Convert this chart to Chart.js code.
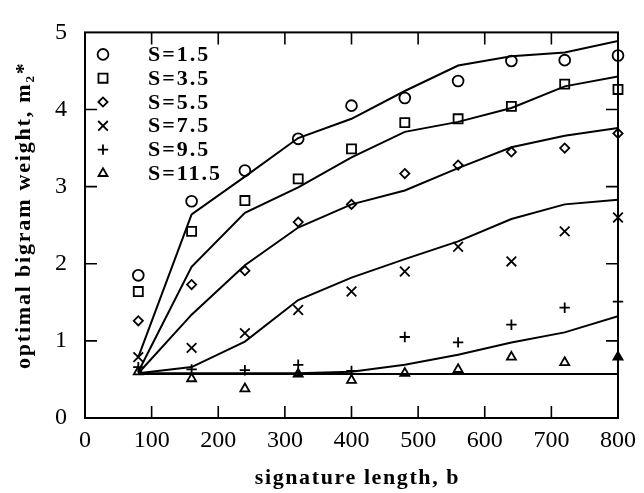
<!DOCTYPE html>
<html><head><meta charset="utf-8">
<script src="https://cdn.jsdelivr.net/npm/chart.js@4.4.1/dist/chart.umd.min.js"></script>
<style>html,body{margin:0;padding:0;background:#fff}#wrap{width:644px;height:493px}</style>
</head><body><div id="wrap"><canvas id="c" width="644" height="493"></canvas></div>
<script>
// ---- data ----
const signatureLengths = [80, 160, 240, 320, 400, 480, 560, 640, 720, 800];
const seriesLabels = ['S=1.5', 'S=3.5', 'S=5.5', 'S=7.5', 'S=9.5', 'S=11.5'];
const obsS15  = [1.85, 2.81, 3.21, 3.62, 4.05, 4.15, 4.37, 4.63, 4.64, 4.70];
const obsS35  = [1.64, 2.42, 2.82, 3.10, 3.49, 3.83, 3.88, 4.04, 4.33, 4.26];
const obsS55  = [1.26, 1.73, 1.91, 2.54, 2.77, 3.17, 3.28, 3.45, 3.50, 3.69];
const obsS75  = [0.79, 0.91, 1.10, 1.40, 1.64, 1.90, 2.22, 2.03, 2.42, 2.60];
const obsS95  = [0.66, 0.63, 0.62, 0.69, 0.61, 1.05, 0.98, 1.21, 1.43, 1.51];
const obsS115 = [0.60, 0.51, 0.38, 0.57, 0.49, 0.58, 0.63, 0.79, 0.72, 0.79];
const fitS15  = [0.79, 2.64, 3.13, 3.63, 3.88, 4.24, 4.57, 4.69, 4.74, 4.89];
const fitS35  = [0.60, 1.96, 2.66, 2.99, 3.38, 3.71, 3.84, 4.02, 4.30, 4.43];
const fitS55  = [0.58, 1.34, 1.98, 2.47, 2.77, 2.95, 3.24, 3.51, 3.66, 3.76];
const fitS75  = [0.58, 0.66, 0.99, 1.53, 1.82, 2.06, 2.29, 2.58, 2.77, 2.83];
const fitS95  = [0.58, 0.58, 0.58, 0.58, 0.60, 0.69, 0.82, 0.98, 1.11, 1.32];
const fitS115 = [0.57, 0.57, 0.57, 0.57, 0.57, 0.57, 0.57, 0.57, 0.57, 0.57];
const xTickValues = [100, 200, 300, 400, 500, 600, 700];
const yTickValues = [1, 2, 3, 4];

const observed = [obsS15, obsS35, obsS55, obsS75, obsS95, obsS115];
const fitted = [fitS15, fitS35, fitS55, fitS75, fitS95, fitS115];

// ---- styles ----
const markerStyles = [
  {pointStyle: 'circle', radius: 5.4},
  {pointStyle: 'rect', radius: 6.4},
  {pointStyle: 'rectRot', radius: 4.6},
  {pointStyle: 'crossRot', radius: 6.8},
  {pointStyle: 'cross', radius: 5.2},
  {pointStyle: 'triangle', radius: 5.2}
];
const triangleFill = ['rgba(0,0,0,0)','rgba(0,0,0,0)','rgba(0,0,0,0)','#000','rgba(0,0,0,0)','rgba(0,0,0,0)','rgba(0,0,0,0)','rgba(0,0,0,0)','rgba(0,0,0,0)','#000'];
const FONT = '"Liberation Serif", "DejaVu Serif", serif';

const toPts = arr => arr.map((v, i) => ({x: signatureLengths[i], y: v}));

const datasets = [];
fitted.forEach((arr, i) => {
  datasets.push({
    label: 'fit ' + seriesLabels[i], data: toPts(arr), showLine: true,
    borderColor: '#000', borderWidth: 2, pointRadius: 0, tension: 0, fill: false
  });
});
observed.forEach((arr, i) => {
  datasets.push({
    label: seriesLabels[i], data: toPts(arr), showLine: false, clip: false,
    pointStyle: markerStyles[i].pointStyle, pointRadius: markerStyles[i].radius,
    pointBorderColor: '#000', pointBorderWidth: 1.8,
    pointBackgroundColor: i === 5 ? triangleFill : 'rgba(0,0,0,0)',
    isMarker: true, markerIndex: i
  });
});

const titleTweak = {
  id: 'titleTweak',
  afterLayout(chart) {
    const cfg = [['x', 6, 2, '1.6px'], ['y', 0, -10, '1.8px']];
    for (const [id, dx, dy, ls] of cfg) {
      const s = chart.scales[id];
      if (!s || s._patched) continue;
      const orig = s.drawTitle;
      s.drawTitle = function () {
        const c = this.ctx; c.save(); c.letterSpacing = ls; c.translate(dx, dy);
        orig.apply(this, arguments); c.restore();
      };
      s._patched = true;
    }
  }
};

const frameTicks = {
  id: 'frameTicks',
  afterDraw(chart) {
    const {ctx, chartArea: a, scales: {x, y}} = chart;
    ctx.save();
    ctx.strokeStyle = '#000';
    ctx.lineWidth = 2;
    ctx.strokeRect(a.left, a.top, a.right - a.left, a.bottom - a.top);
    ctx.lineWidth = 1.6;
    const L = 12;
    ctx.beginPath();
    xTickValues.forEach(v => {
      const px = x.getPixelForValue(v);
      ctx.moveTo(px, a.bottom); ctx.lineTo(px, a.bottom - L);
      ctx.moveTo(px, a.top); ctx.lineTo(px, a.top + L);
    });
    yTickValues.forEach(v => {
      const py = y.getPixelForValue(v);
      ctx.moveTo(a.left, py); ctx.lineTo(a.left + L, py);
      ctx.moveTo(a.right, py); ctx.lineTo(a.right - L, py);
    });
    ctx.stroke();
    ctx.restore();
  }
};

const markerLegend = {
  id: 'markerLegend',
  afterDraw(chart) {
    const {ctx, chartArea: a} = chart;
    ctx.save();
    chart.data.datasets.forEach(ds => {
      if (!ds.isMarker) return;
      const i = ds.markerIndex;
      const yy = a.top + 22 + i * 23.8;
      ctx.strokeStyle = '#000';
      ctx.fillStyle = 'rgba(0,0,0,0)';
      ctx.lineWidth = 1.8;
      Chart.helpers.drawPoint(ctx, {pointStyle: ds.pointStyle, radius: ds.pointRadius, rotation: 0, borderWidth: 1.8}, a.left + 18, yy);
      ctx.fillStyle = '#000';
      ctx.font = 'bold 22px ' + FONT;
      ctx.letterSpacing = '2px';
      ctx.textBaseline = 'middle';
      ctx.textAlign = 'left';
      ctx.fillText(ds.label, a.left + 63, yy + 1);
    });
    ctx.restore();
  }
};

new Chart(document.getElementById('c'), {
  type: 'scatter',
  data: {datasets},
  options: {
    responsive: false, animation: false, devicePixelRatio: 1,
    layout: {padding: {left: 0, top: 15, right: 23, bottom: 0}},
    plugins: {legend: {display: false}, tooltip: {enabled: false}},
    scales: {
      x: {
        type: 'linear', min: 0, max: 800, position: 'bottom',
        grid: {display: false, drawTicks: false}, border: {display: false},
        ticks: {stepSize: 100, color: '#000', padding: 8, maxRotation: 0, autoSkip: false,
                font: {family: FONT, size: 24}},
        title: {display: true, text: 'signature length, b', color: '#000',
                font: {family: FONT, size: 22, weight: 'bold'}, padding: {top: 0, bottom: 3}},
        afterFit(s) { s.height = 75; }
      },
      y: {
        type: 'linear', min: 0, max: 5, position: 'left',
        grid: {display: false, drawTicks: false}, border: {display: false},
        ticks: {stepSize: 1, color: '#000', padding: 18, font: {family: FONT, size: 24}},
        title: {display: true, text: 'optimal bigram weight, m\u2082*', color: '#000',
                font: {family: FONT, size: 22, weight: 'bold'}, padding: {top: 11, bottom: 0}},
        afterFit(s) { s.width = 85; }
      }
    }
  },
  plugins: [titleTweak, frameTicks, markerLegend]
});
</script></body></html>
